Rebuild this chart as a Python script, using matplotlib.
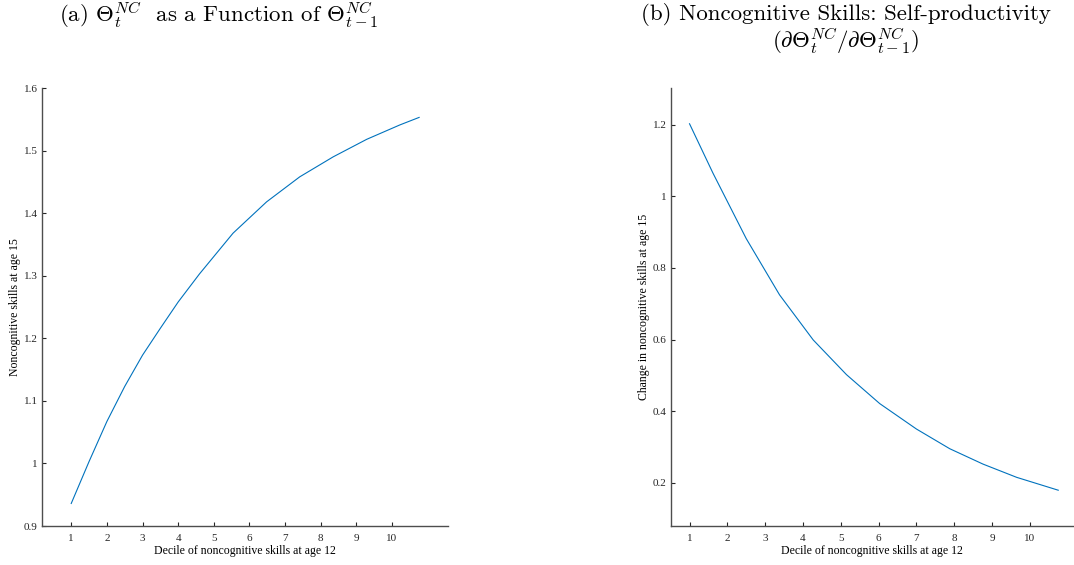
import matplotlib
matplotlib.use("Agg")
import matplotlib.pyplot as plt

plt.rcParams['mathtext.fontset'] = 'cm'
plt.rcParams['font.family'] = ['Liberation Serif', 'DejaVu Serif']

# values
decile_a = [1, 1.5, 2, 2.5, 3, 3.5, 4, 4.6, 5.54, 6.48, 7.41, 8.35, 9.29, 10.22, 10.76]
level_15 = [0.936, 1.003, 1.067, 1.123, 1.173, 1.216, 1.258, 1.303, 1.368, 1.418,
            1.458, 1.490, 1.518, 1.541, 1.553]

decile_b = [1, 1.62, 2.5, 3.38, 4.27, 5.15, 6.03, 7.0, 7.88, 8.76, 9.65, 10.75]
slope_15 = [1.203, 1.065, 0.882, 0.725, 0.599, 0.502, 0.421, 0.350, 0.295, 0.252,
            0.215, 0.179]

xticks = [1, 2, 3, 4, 5, 6, 7, 8, 9, 10]
yticks_a = [0.9, 1, 1.1, 1.2, 1.3, 1.4, 1.5, 1.6]
yticks_b = [0.2, 0.4, 0.6, 0.8, 1, 1.2]

xlabel = "Decile of noncognitive skills at age 12"
ylabel_a = "Noncognitive skills at age 15"
ylabel_b = "Change in noncognitive skills at age 15"

W, H = 1074, 565
fig = plt.figure(figsize=(W / 100, H / 100), dpi=100)

line_col = '#0072BD'
axis_col = '#4d4d4d'


def px_axes(x0, x1, y0, y1):
    # axes box given in pixel coords of the reference (y from top)
    return fig.add_axes([x0 / W, 1 - y1 / H, (x1 - x0) / W, (y1 - y0) / H])


def style(ax):
    for s in ['top', 'right']:
        ax.spines[s].set_visible(False)
    for s in ['left', 'bottom']:
        ax.spines[s].set_color(axis_col)
        ax.spines[s].set_linewidth(1.0)
    ax.tick_params(direction='in', length=3, width=0.8, colors='#262626',
                   labelsize=8)
    ax.tick_params(axis='y', pad=3)
    ax.tick_params(axis='x', pad=6)
    ax.set_xticks(xticks)
    ax.set_xticklabels([str(t) for t in xticks])


def fmt(v):
    return ('%g' % v)


# panel (a)
ax1 = px_axes(42, 448, 88, 526)
ax1.plot(decile_a, level_15, color=line_col, lw=0.8)
ax1.set_xlim(0.18, 11.57)
ax1.set_ylim(0.9, 1.6)
style(ax1)
ax1.set_yticks(yticks_a)
ax1.set_yticklabels([fmt(t) for t in yticks_a])
ax1.set_xlabel(xlabel, fontsize=8.5, labelpad=1)
ax1.set_ylabel(ylabel_a, fontsize=8.5, labelpad=2)

# panel (b)
ax2 = px_axes(671, 1073, 88, 526)
ax2.plot(decile_b, slope_15, color=line_col, lw=0.8)
ax2.set_xlim(0.51, 11.14)
ax2.set_ylim(0.079, 1.303)
style(ax2)
ax2.set_yticks(yticks_b)
ax2.set_yticklabels([fmt(t) for t in yticks_b])
ax2.set_xlabel(xlabel, fontsize=8.5, labelpad=1)
ax2.set_ylabel(ylabel_b, fontsize=8.5, labelpad=2)

# titles
fig.text(219 / W, 1 - 15 / H, r"(a) $\Theta_t^{NC}$  as a Function of $\Theta_{t-1}^{NC}$",
         ha='center', va='center', fontsize=16.5, family='cmr10')
fig.text(846 / W, 1 - 15 / H, "(b) Noncognitive Skills: Self-productivity",
         ha='center', va='center', fontsize=16.5, family='cmr10')
fig.text(846 / W, 1 - 41 / H, r"$(\partial\Theta_t^{NC}/\partial\Theta_{t-1}^{NC})$",
         ha='center', va='center', fontsize=16.5)

fig.savefig("out.png", dpi=100)
